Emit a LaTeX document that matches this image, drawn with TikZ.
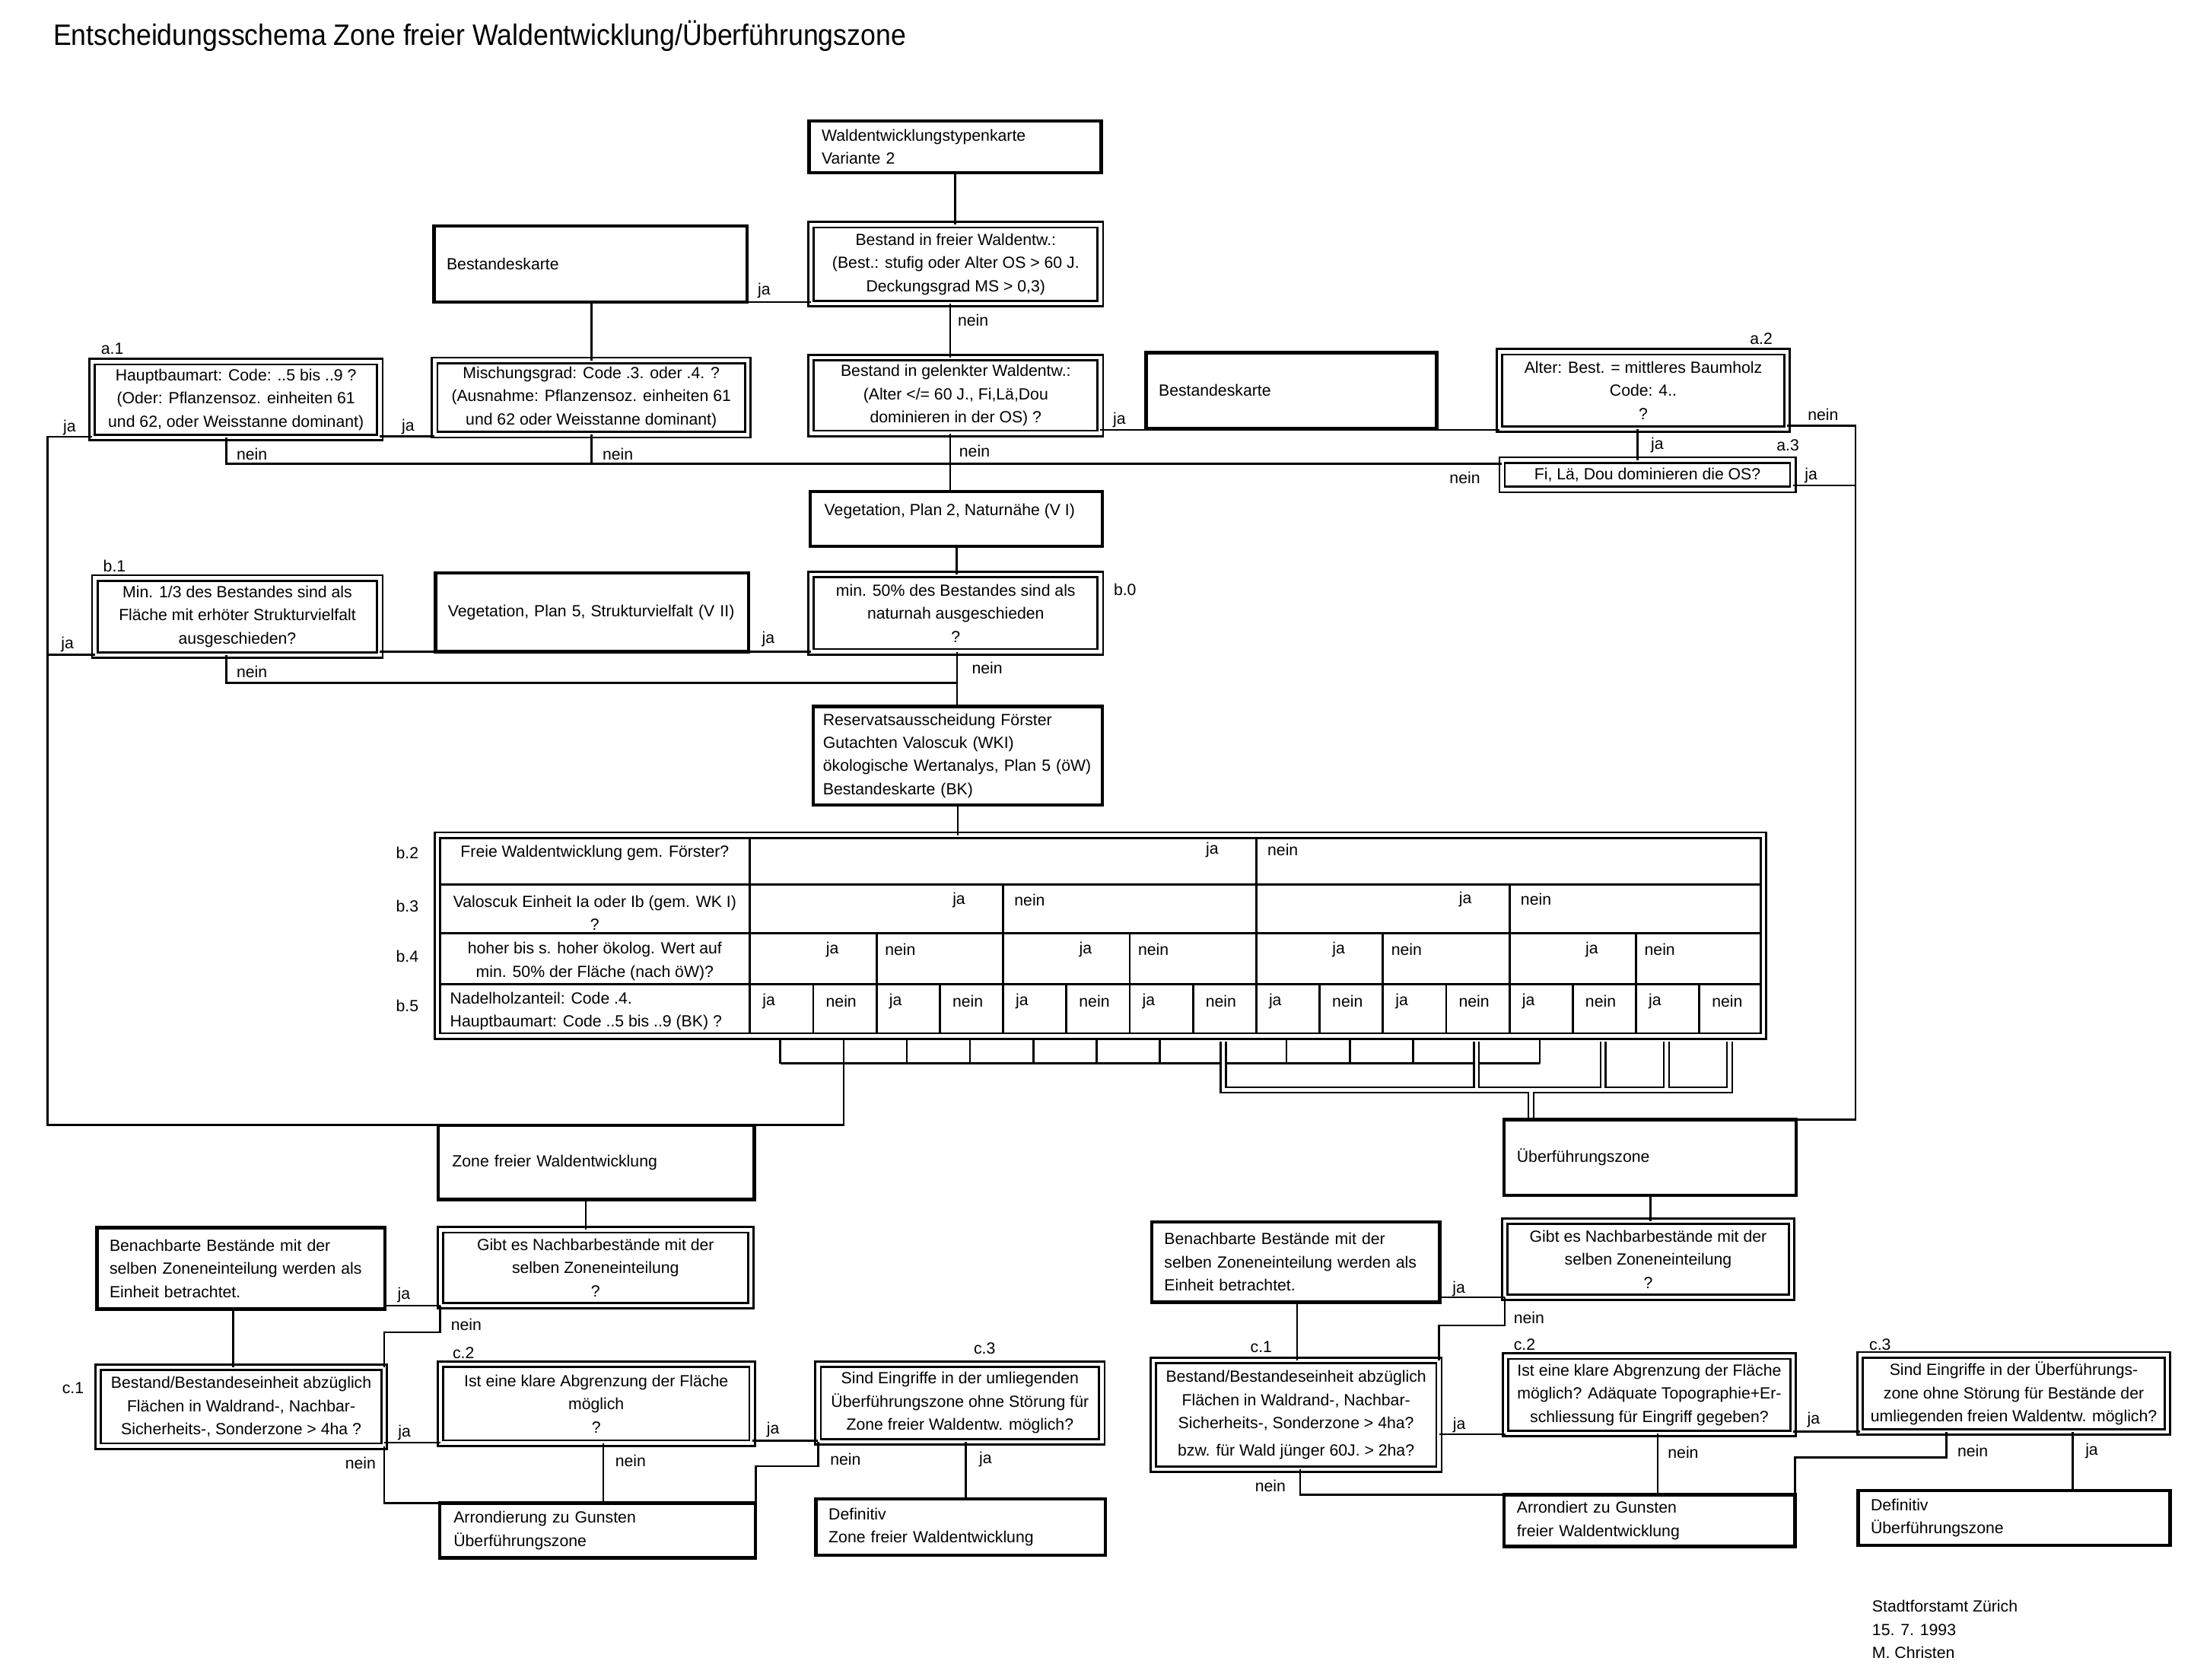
\documentclass[tikz,border=0pt]{standalone}
\usepackage{fontspec}
\setmainfont{Liberation Sans}
\newfontfamily\titlefont[FakeStretch=0.92]{Liberation Sans}
\newcommand\fs{\fontsize{11.5}{16.5}\selectfont}
\newcommand\lab[4]{\node[lbl] (#1) at (#2,#3) {#4};}
\newcommand\labw[4]{\node[lbl,anchor=west] (#1) at (#2,#3) {#4};}
\begin{document}
\begin{tikzpicture}[x=1pt,y=-1pt,
  every node/.style={font=\fs, inner sep=0pt, outer sep=0pt},
  sz/.style 2 args={minimum width=#1pt, minimum height=#2pt},
  tw/.style={text width=#1pt},
  sbox/.style={draw, line width=2.4pt},
  lbox/.style={sbox, align=left, inner xsep=9pt},
  dbox/.style={draw, double, double distance=2.4pt, line width=1.5pt, align=center},
  con/.style={line width=1.4pt},
  lbl/.style={},
  gridline/.style={line width=1.5pt},
  dbl/.style={white, line width=2.4pt, preaction={draw=black, line width=5pt}},
]
\path[use as bounding box, fill=white] (0,0) rectangle (1560,1196);

\node[anchor=base west, font=\titlefont\fontsize{21}{25}\selectfont] (title) at (38,32.5) {Entscheidungsschema Zone freier Waldentwicklung/Überführungszone};

% ================= NODES =================
% ---------- upper part ----------
\node[lbox, sz={208}{37}, tw={190}] (wtk) at (680,104.5) {Waldentwicklungstypenkarte\\Variante 2};
\node[dbox, sz={206}{56}] (frei) at (680.5,188) {Bestand in freier Waldentw.:\\(Best.: stufig oder Alter OS > 60 J.\\Deckungsgrad MS > 0,3)};
\node[lbox, sz={223}{54}, tw={205}] (bk1) at (420.5,188) {Bestandeskarte};
\node[dbox, sz={205}{54}] (a1) at (168,284.5) {Hauptbaumart: Code: ..5 bis ..9 ?\\(Oder: Pflanzensoz. einheiten 61\\und 62, oder Weisstanne dominant)};
\node[dbox, sz={223}{53}] (misch) at (421,283) {Mischungsgrad: Code .3. oder .4. ?\\(Ausnahme: Pflanzensoz. einheiten 61\\und 62 oder Weisstanne dominant)};
\node[dbox, sz={206}{54}] (gel) at (680.5,281.5) {Bestand in gelenkter Waldentw.:\\(Alter </= 60 J., Fi,Lä,Dou\\dominieren in der OS) ?};
\node[lbox, sz={207}{54}, tw={189}] (bk2) at (919.5,278) {Bestandeskarte};
\node[dbox, sz={205}{55}] (a2) at (1170,278) {Alter: Best. = mittleres Baumholz\\Code: 4..\\?};
\node[dbox, sz={207}{21}] (a3) at (1173,338) {Fi, Lä, Dou dominieren die OS?};
\node[sbox, sz={208}{39}] (veg2) at (681,369.5) {};
\node[anchor=west] (veg2t) at (587,364) {Vegetation, Plan 2, Naturnähe (V I)};
\node[dbox, sz={206}{55}] (b0) at (680.5,436.5) {min. 50\% des Bestandes sind als\\naturnah ausgeschieden\\?};
\node[lbox, sz={223}{56}, tw={205}] (veg5) at (421.5,436) {Vegetation, Plan 5, Strukturvielfalt (V II)};
\node[dbox, sz={203}{55}] (b1) at (169,439) {Min. 1/3 des Bestandes sind als\\Fläche mit erhöter Strukturvielfalt\\ausgeschieden?};
\node[lbox, inner xsep=7pt, sz={206}{70}, tw={192}] (res) at (682,538) {Reservatsausscheidung Förster\\Gutachten Valoscuk (WKI)\\ökologische Wertanalys, Plan 5 (öW)\\Bestandeskarte (BK)};

% ---------- table ----------
\node[dbox, sz={944}{143}] (tab) at (783.5,666) {};

% ---------- lower left ----------
\node[lbox, sz={225}{53}, tw={205}] (zfw) at (424.5,827.5) {Zone freier Waldentwicklung};
\node[lbox, sz={205}{58}, tw={187}] (ben1) at (171.5,903) {Benachbarte Bestände mit der\\selben Zoneneinteilung werden als\\Einheit betrachtet.};
\node[dbox, sz={221}{54}] (gibt1) at (424,902.5) {Gibt es Nachbarbestände mit der\\selben Zoneneinteilung\\?};
\node[dbox, sz={203.5}{56}] (c1) at (171.75,1001.5) {Bestand/Bestandeseinheit abzüglich\\Flächen in Waldrand-, Nachbar-\\Sicherheits-, Sonderzone > 4ha ?};
\node[dbox, sz={222}{56}] (c2) at (424.5,999.3) {Ist eine klare Abgrenzung der Fläche\\möglich\\?};
\node[dbox, sz={202}{55}] (c3) at (683.5,998.8) {Sind Eingriffe in der umliegenden\\Überführungszone ohne Störung für\\Zone freier Waldentw. möglich?};
\node[lbox, sz={225}{39}, tw={205}] (arr1) at (425.5,1089.5) {Arrondierung zu Gunsten\\Überführungszone};
\node[lbox, sz={206}{40}, tw={188}] (def1) at (684,1087) {Definitiv\\Zone freier Waldentwicklung};

% ---------- lower right ----------
\node[lbox, sz={208}{54}, tw={190}] (uez) at (1175,824) {Überführungszone};
\node[lbox, sz={205}{57}, tw={187}] (ben2) at (922.5,898.5) {Benachbarte Bestände mit der\\selben Zoneneinteilung werden als\\Einheit betrachtet.};
\node[dbox, sz={204}{54}] (gibt2) at (1173.5,896.5) {Gibt es Nachbarbestände mit der\\selben Zoneneinteilung\\?};
\node[dbox, sz={203.5}{77.5}] (c1b) at (922.8,1007.25) {Bestand/Bestandeseinheit abzüglich\\Flächen in Waldrand-, Nachbar-\\Sicherheits-, Sonderzone > 4ha?\\[3pt]bzw. für Wald jünger 60J. > 2ha?};
\node[dbox, sz={205}{55}] (c2b) at (1174.3,993) {Ist eine klare Abgrenzung der Fläche\\möglich? Adäquate Topographie+Er-\\schliessung für Eingriff gegeben?};
\node[dbox, sz={218.6}{55}] (c3b) at (1433.8,992) {Sind Eingriffe in der Überführungs-\\zone ohne Störung für Bestände der\\umliegenden freien Waldentw. möglich?};
\node[lbox, sz={207}{37}, tw={189}] (arr2) at (1174.5,1082.5) {Arrondiert zu Gunsten\\freier Waldentwicklung};
\node[lbox, sz={222}{39}, tw={204}] (def2) at (1434,1080.5) {Definitiv\\Überführungszone};

% signature
\node[align=left, anchor=west] (sig) at (1333,1160) {Stadtforstamt Zürich\\15. 7. 1993\\M. Christen};

% ================= LABELS =================
\lab{la1}{80}{248}{a.1}
\lab{la2}{1254}{241}{a.2}
\lab{la3}{1273}{317}{a.3}
\lab{lb1}{81.5}{402.7}{b.1}
\lab{lb0}{801}{420}{b.0}
\lab{l1}{544}{207}{ja}
\labw{l2}{682}{228}{nein}
\lab{l3}{49.5}{304.5}{ja}
\lab{l4}{290.5}{304}{ja}
\lab{l5}{797}{299}{ja}
\labw{l6}{168.5}{323.5}{nein}
\labw{l7}{429}{323.5}{nein}
\labw{l8}{683}{321}{nein}
\lab{l9}{1298}{295}{nein}
\lab{l10}{1180}{317}{ja}
\lab{l11}{1289.5}{338.6}{ja}
\lab{l12}{1043}{340}{nein}
\lab{l13}{48}{458.7}{ja}
\lab{l14}{547}{455}{ja}
\labw{l15}{168.5}{478.5}{nein}
\labw{l16}{692}{475.7}{nein}

\lab{m1}{287.6}{922}{ja}
\lab{m2}{332}{943}{nein}
\lab{lc1}{52}{988}{c.1}
\lab{m3}{288}{1020}{ja}
\lab{m4}{256.7}{1041.5}{nein}
\lab{lc2}{330}{963}{c.2}
\lab{m5}{449}{1040}{nein}
\lab{m6}{550.4}{1018}{ja}
\lab{lc3}{701}{960}{c.3}
\lab{m7}{602}{1039}{nein}
\lab{m8}{701.7}{1039}{ja}

\lab{r1}{1038.7}{917.7}{ja}
\lab{r2}{1088.7}{938}{nein}
\lab{lc1b}{898}{959}{c.1}
\lab{r3}{1039}{1014.6}{ja}
\lab{r4}{904.5}{1058}{nein}
\lab{lc2b}{1085.5}{957}{c.2}
\lab{r5}{1198.4}{1034}{nein}
\lab{r6}{1291.3}{1011}{ja}
\lab{lc3b}{1338.6}{957}{c.3}
\lab{r7}{1404.6}{1033}{nein}
\lab{r8}{1489.3}{1033}{ja}

% ================= TABLE CONTENT =================
\draw[gridline] (314,629.5) -- (1253,629.5) (314,664.5) -- (1253,664.5) (314,700.5) -- (1253,700.5);
\draw[gridline] (534,597) -- (534,735) (894.5,597) -- (894.5,735);
\foreach \k in {4,12} {\pgfmathsetmacro\xx{534+\k*45.0625} \draw[gridline] (\xx,629.5) -- (\xx,735);}
\foreach \k in {2,6,10,14} {\pgfmathsetmacro\xx{534+\k*45.0625} \draw[gridline] (\xx,664.5) -- (\xx,735);}
\foreach \k in {1,3,5,7,9,11,13,15} {\pgfmathsetmacro\xx{534+\k*45.0625} \draw[gridline] (\xx,700.5) -- (\xx,735);}

\lab{rb2}{290}{607}{b.2}
\lab{rb3}{290}{645}{b.3}
\lab{rb4}{290}{681}{b.4}
\lab{rb5}{290}{716}{b.5}
\node (t2) at (423.5,607) {Freie Waldentwicklung gem. Förster?};
\node[align=center] (t3) at (423.5,650) {Valoscuk Einheit Ia oder Ib (gem. WK I)\\?};
\node[align=center] (t4) at (423.5,684.5) {hoher bis s. hoher ökolog. Wert auf\\min. 50\% der Fläche (nach öW)?};
\node[align=left, anchor=west] (t5) at (320.5,720) {Nadelholzanteil: Code .4.\\Hauptbaumart: Code ..5 bis ..9 (BK) ?};
\node[anchor=east] (j2) at (867.5,605) {ja};
\node[anchor=west] (n2) at (902.5,605) {nein};
\foreach \k/\yy [count=\i] in {4/641,12/640} {\pgfmathsetmacro\xx{534+\k*45.0625}
  \node[anchor=east] (j3-\i) at ({\xx-27},\yy) {ja};
  \node[anchor=west] (n3-\i) at ({\xx+8},\yy) {nein};}
\foreach \k [count=\i] in {2,6,10,14} {\pgfmathsetmacro\xx{534+\k*45.0625}
  \node[anchor=east] (j4-\i) at ({\xx-27},676) {ja};
  \node[anchor=west] (n4-\i) at ({\xx+6},676) {nein};}
\foreach \k in {0,2,4,6,8,10,12,14} {\pgfmathsetmacro\xx{534+\k*45.0625+9}
  \node[anchor=west] (j5-\k) at (\xx,713) {ja};}
\foreach \k in {1,3,5,7,9,11,13,15} {\pgfmathsetmacro\xx{534+\k*45.0625+9}
  \node[anchor=west] (n5-\k) at (\xx,713) {nein};}

% ================= CONNECTORS =================
\coordinate (LB1) at (34,311);
\coordinate (LB2) at (34,466);
\coordinate (LB3) at (34,801);
\coordinate (RB1) at (1321,303);
\coordinate (RB3) at (1321,797);
\coordinate (N1) at (161,330);
\coordinate (N2) at (161,486);

\draw[con] (wtk.south) -- (wtk.south |- frei.north);
\draw[con] ([xshift=-4pt]frei.south) -- ([xshift=-4pt]frei.south |- gel.north);
\draw[con] (bk1.south east) -- (bk1.south east -| frei.west);
\draw[con] (misch.north) -- (misch.north |- bk1.south);
\draw[con] (misch.west |- 0,310.5) -- (a1.east |- 0,310.5);
\draw[con] (gel.east |- 0,306) -- (a2.west |- 0,306);
\draw[con] (a2.east |- RB1) -- (RB1) -- (RB3) -- (uez.north east);
\draw[con] ([xshift=-4pt]a2.south) -- ([xshift=-4pt]a2.south |- a3.north);
\draw[con] (a3.east |- 0,345.5) -- (RB1 |- 0,345.5);
\draw[con] (N1 |- a1.south) -- (N1) -- (N1 -| a3.west);
\draw[con] (misch.south) -- (misch.south |- N1);
\draw[con] ([xshift=-4pt]gel.south) -- ([xshift=-4pt]gel.south |- veg2.north);
\draw[con] (veg2.south) -- (veg2.south |- b0.north);
\draw[con] (b0.west |- 0,464) -- (b1.east |- 0,464);
\draw[con] (b1.west |- LB2) -- (LB2);
\draw[con] (N2 |- b1.south) -- (N2) -- (N2 -| res.north);
\draw[con] ([xshift=1pt]b0.south) -- ([xshift=1pt]b0.south |- res.north);
\draw[con] (res.south) -- (res.south |- tab.north);

% below the table
\foreach \k in {1,...,16} {\pgfmathsetmacro\xx{534+(\k-0.5)*45.0625-1}
  \coordinate (C\k) at (\xx,740);
  \coordinate (S\k) at (\xx,757);
  \coordinate (D\k) at (\xx,741.5);
  \coordinate (E\k) at (\xx,776);}
\foreach \k in {1,2,3,4,5,6,7,9,10,11,13} {\draw[con] (C\k) -- (S\k);}
\draw[con] (S1) -- (S13);
\draw[con] (a1.west |- LB1) -- (LB1) -- (LB3) -- (LB3 -| S2) -- (S2);
\coordinate (F1) at (1090,776);
\draw[dbl] (D8) -- (E8) -- (E16) -- (D16) (D12) -- (E12) (D14) -- (E14) (D15) -- (E15) (F1) -- (F1 |- 0,795.5);

% lower left
\draw[con] ([xshift=-7.5pt]zfw.south) -- ([xshift=-7.5pt]zfw.south |- gibt1.north);
\draw[con] (gibt1.south west) -- (gibt1.south west -| ben1.east);
\draw[con] (gibt1.south west) -- ++(0,19) -| (c1.north east);
\draw[con] ([xshift=-5.5pt]ben1.south) -- ([xshift=-5.5pt]ben1.south |- c1.north);
\draw[con] (c1.east |- 0,1027) -- (c2.west |- 0,1027);
\draw[con] (c1.south east) -- (c1.south east |- arr1.north) -- (arr1.north west);
\draw[con] ([xshift=5pt]c2.south) -- ([xshift=5pt]c2.south |- arr1.north);
\draw[con] (c2.east |- 0,1025.5) -- (c3.west |- 0,1025.5);
\draw[con] (c3.south west) -- ++(0,17.5) -| (arr1.north east);
\draw[con] ([xshift=4pt]c3.south) -- ([xshift=4pt]c3.south |- def1.north);

% lower right
\draw[con] (uez.south) -- (uez.south |- gibt2.north);
\draw[con] (gibt2.south west) -- (gibt2.south west -| ben2.east);
\draw[con] (gibt2.south west) -- ++(0,20) -| (c1b.north east);
\draw[con] ([xshift=1pt]ben2.south) -- ([xshift=1pt]ben2.south |- c1b.north);
\draw[con] (c1b.east |- 0,1021) -- (c2b.west |- 0,1021);
\draw[con] ([xshift=3pt]c1b.south) -- ([xshift=3pt]c1b.south |- arr2.north) -- (arr2.north west);
\draw[con] ([xshift=6pt]c2b.south) -- ([xshift=6pt]c2b.south |- arr2.north);
\draw[con] (c2b.east |- 0,1019) -- (c3b.west |- 0,1019);
\draw[con] ([xshift=-48pt]c3b.south) -- ++(0,18) -| (arr2.north east);
\draw[con] ([xshift=42pt]c3b.south) -- ([xshift=42pt]c3b.south |- def2.north);
\end{tikzpicture}
\end{document}
